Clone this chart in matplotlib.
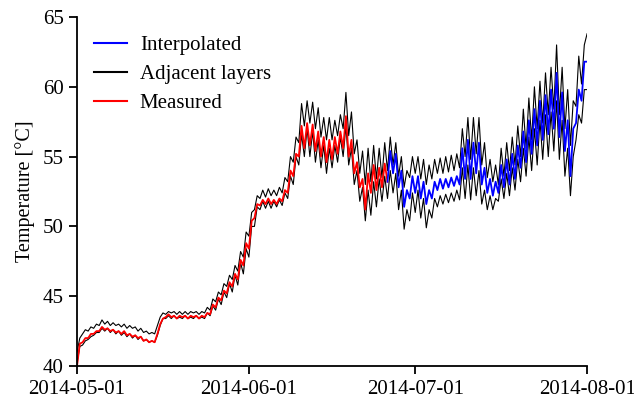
import numpy as np
import pandas as pd
import matplotlib
matplotlib.use("Agg")
import matplotlib.pyplot as plt
import matplotlib.dates as mdates

plt.rcParams['font.family'] = ['Liberation Serif', 'DejaVu Serif']

# 12-hourly readings, 2014-05-01 00:00 .. 2014-08-01 00:00
upper = [
    41.0, 42.0, 42.3, 42.6, 42.5, 42.8, 42.7, 43.0, 42.9, 43.3, 43.0, 43.2, 42.9, 43.1,
    42.9, 43.0, 42.8, 43.0, 42.7, 42.9, 42.7, 42.8, 42.5, 42.7, 42.4, 42.5, 42.3, 42.4,
    42.3, 42.9, 43.5, 43.8, 43.7, 43.9, 43.8, 43.9, 43.7, 43.9, 43.7, 43.9, 43.7, 43.9,
    43.8, 43.9, 43.7, 43.9, 43.8, 44.2, 44.0, 44.8, 44.6, 45.3, 45.1, 45.9, 45.7, 46.5,
    46.2, 47.2, 46.8, 48.2, 47.8, 49.6, 49.3, 51.0, 51.2, 52.2, 52.0, 52.6, 52.1, 52.7,
    52.2, 52.6, 52.2, 52.8, 52.4, 53.5, 53.2, 55.0, 54.6, 56.4, 56.0, 58.8, 57.2, 59.0,
    57.4, 58.9, 57.0, 58.5, 56.4, 57.8, 56.2, 57.8, 56.2, 57.6, 56.5, 58.0, 57.0, 59.6,
    56.5, 58.2, 55.2, 56.2, 53.8, 55.4, 53.0, 55.6, 53.2, 55.8, 53.4, 55.6, 53.5, 56.0,
    54.0, 56.4, 54.4, 56.0, 53.6, 55.0, 52.8, 54.0, 53.5, 55.0, 53.8, 55.0, 53.4, 54.8,
    53.0, 54.4, 53.4, 54.8, 53.8, 54.9, 53.8, 55.0, 53.9, 55.1, 54.0, 55.2, 54.2, 57.0,
    55.0, 57.8, 54.8, 57.8, 55.2, 57.8, 54.4, 56.0, 53.5, 54.8, 53.2, 54.4, 53.0, 55.6,
    53.6, 56.0, 54.0, 56.4, 54.4, 57.2, 55.0, 58.4, 55.6, 59.2, 56.2, 60.0, 57.0, 60.4,
    57.4, 61.0, 58.0, 61.4, 58.4, 63.0, 58.0, 61.4, 57.0, 59.8, 55.8, 59.0, 58.6, 62.2,
    60.2, 63.0, 63.8,
]
lower = [
    40.2, 41.4, 41.5, 41.8, 41.9, 42.1, 42.2, 42.4, 42.4, 42.7, 42.5, 42.7, 42.4, 42.6,
    42.3, 42.5, 42.2, 42.4, 42.1, 42.3, 42.0, 42.2, 41.9, 42.1, 41.8, 41.9, 41.7, 41.8,
    41.7, 42.2, 42.9, 43.4, 43.4, 43.6, 43.4, 43.6, 43.4, 43.5, 43.4, 43.6, 43.4, 43.5,
    43.4, 43.6, 43.4, 43.5, 43.4, 43.8, 43.6, 44.3, 44.0, 44.8, 44.4, 45.3, 44.9, 45.9,
    45.3, 46.5, 45.8, 47.4, 46.6, 48.4, 47.8, 50.0, 50.0, 51.4, 51.2, 51.8, 51.3, 51.8,
    51.3, 51.8, 51.4, 51.9, 51.5, 52.4, 52.0, 53.6, 53.0, 55.0, 54.4, 56.6, 55.0, 57.0,
    55.0, 56.8, 54.6, 56.2, 54.2, 55.8, 53.8, 55.6, 54.2, 55.8, 54.6, 56.4, 55.0, 57.2,
    54.4, 55.6, 53.0, 54.0, 51.8, 52.8, 50.4, 52.6, 50.8, 53.2, 51.4, 53.4, 51.8, 53.6,
    52.0, 54.0, 52.4, 53.8, 51.2, 52.6, 49.8, 51.2, 50.4, 52.4, 51.0, 52.6, 50.6, 52.0,
    49.9, 51.2, 50.6, 52.0, 51.4, 52.2, 51.6, 52.3, 51.7, 52.4, 51.8, 52.6, 51.9, 54.2,
    52.0, 54.4, 51.9, 54.2, 52.2, 54.0, 51.6, 52.6, 51.2, 52.2, 51.2, 52.0, 51.8, 53.4,
    52.0, 53.8, 52.2, 54.2, 52.6, 54.8, 53.2, 55.6, 53.6, 56.4, 54.0, 57.0, 54.4, 57.6,
    54.8, 58.0, 55.0, 58.2, 55.4, 59.0, 54.8, 57.6, 53.6, 55.6, 52.2, 55.0, 56.2, 58.0,
    57.4, 59.8, 59.8,
]
# measured series, 2014-05-01 .. 2014-06-26
measured = [
    40.0, 41.6, 41.7, 42.0, 42.0, 42.3, 42.3, 42.5, 42.5, 42.8, 42.6, 42.7, 42.5, 42.6,
    42.4, 42.5, 42.3, 42.5, 42.2, 42.3, 42.1, 42.2, 42.0, 42.1, 41.8, 41.9, 41.7, 41.8,
    41.7, 42.3, 43.0, 43.4, 43.5, 43.7, 43.5, 43.6, 43.4, 43.6, 43.5, 43.6, 43.4, 43.6,
    43.5, 43.6, 43.4, 43.6, 43.5, 43.8, 43.7, 44.4, 44.2, 44.9, 44.7, 45.4, 45.2, 46.0,
    45.7, 46.6, 46.2, 47.6, 47.2, 48.8, 48.4, 50.4, 50.6, 51.6, 51.5, 51.9, 51.6, 52.0,
    51.6, 51.9, 51.6, 52.0, 51.8, 52.6, 52.4, 54.0, 53.6, 55.2, 55.0, 57.2, 55.6, 57.4,
    55.8, 57.3, 55.4, 56.8, 55.0, 56.4, 54.6, 56.2, 54.8, 56.4, 55.2, 56.8, 55.6, 57.9,
    55.0, 56.2, 53.8, 54.6, 52.8, 53.4, 51.2, 53.8, 52.4, 54.4, 52.6, 54.2, 52.8, 54.5,
    53.2,
]
# interpolated series, 2014-06-26 .. 2014-08-01
interpolated = [
    53.2, 55.4, 53.8, 55.2, 52.8, 54.0, 51.4, 52.6, 52.0, 53.6, 52.4, 53.6, 52.0, 53.2,
    51.6, 52.6, 52.0, 53.2, 52.6, 53.4, 52.7, 53.4, 52.8, 53.5, 52.9, 53.6, 53.0, 55.6,
    53.4, 56.2, 53.4, 56.0, 53.8, 56.0, 53.0, 54.2, 52.4, 53.4, 52.2, 53.2, 52.4, 54.4,
    52.8, 54.8, 53.0, 55.2, 53.4, 55.8, 54.2, 56.8, 54.6, 57.6, 55.2, 58.4, 55.8, 59.0,
    56.2, 59.4, 56.6, 59.8, 57.0, 61.0, 56.4, 59.6, 55.4, 57.6, 53.6, 57.0, 57.4, 59.8,
    59.0, 61.8, 61.8,
]

t = pd.date_range('2014-05-01', periods=len(upper), freq='12h')
t_meas = t[:len(measured)]
t_interp = t[len(measured) - 1:]

fig = plt.figure(figsize=(6.34, 4.05), dpi=100)
ax = fig.add_axes([0.1215, 0.0963, 0.8045, 0.8617])

ax.plot(t, upper, color='black', lw=0.8, solid_joinstyle='round')
ax.plot(t, lower, color='black', lw=0.8, solid_joinstyle='round')
ax.plot(t_meas, measured, color='red', lw=1.3, solid_joinstyle='round')
ax.plot(t_interp, interpolated, color='blue', lw=1.3, solid_joinstyle='round')

h_i, = ax.plot([], [], color='blue', lw=1.5, label='Interpolated')
h_a, = ax.plot([], [], color='black', lw=1.5, label='Adjacent layers')
h_m, = ax.plot([], [], color='red', lw=1.5, label='Measured')
ax.legend(handles=[h_i, h_a, h_m], loc='upper left', frameon=False, fontsize=15,
          handlelength=1.6, handletextpad=0.6, labelspacing=0.45,
          bbox_to_anchor=(0.017, 0.97), borderaxespad=0)

ax.set_xlim(pd.Timestamp('2014-05-01'), pd.Timestamp('2014-08-01'))
ax.set_ylim(40, 65)
ax.set_yticks([40, 45, 50, 55, 60, 65])
ax.xaxis.set_major_locator(mdates.MonthLocator())
ax.xaxis.set_major_formatter(mdates.DateFormatter('%Y-%m-%d'))
ax.set_ylabel('Temperature [°C]', fontsize=14.5, labelpad=6)

for side in ['top', 'right']:
    ax.spines[side].set_visible(False)
for side in ['left', 'bottom']:
    ax.spines[side].set_linewidth(1.3)
ax.tick_params(direction='out', length=6, width=1.3, labelsize=15)
ax.tick_params(axis='x', pad=4)

fig.savefig('out.png', dpi=100)
